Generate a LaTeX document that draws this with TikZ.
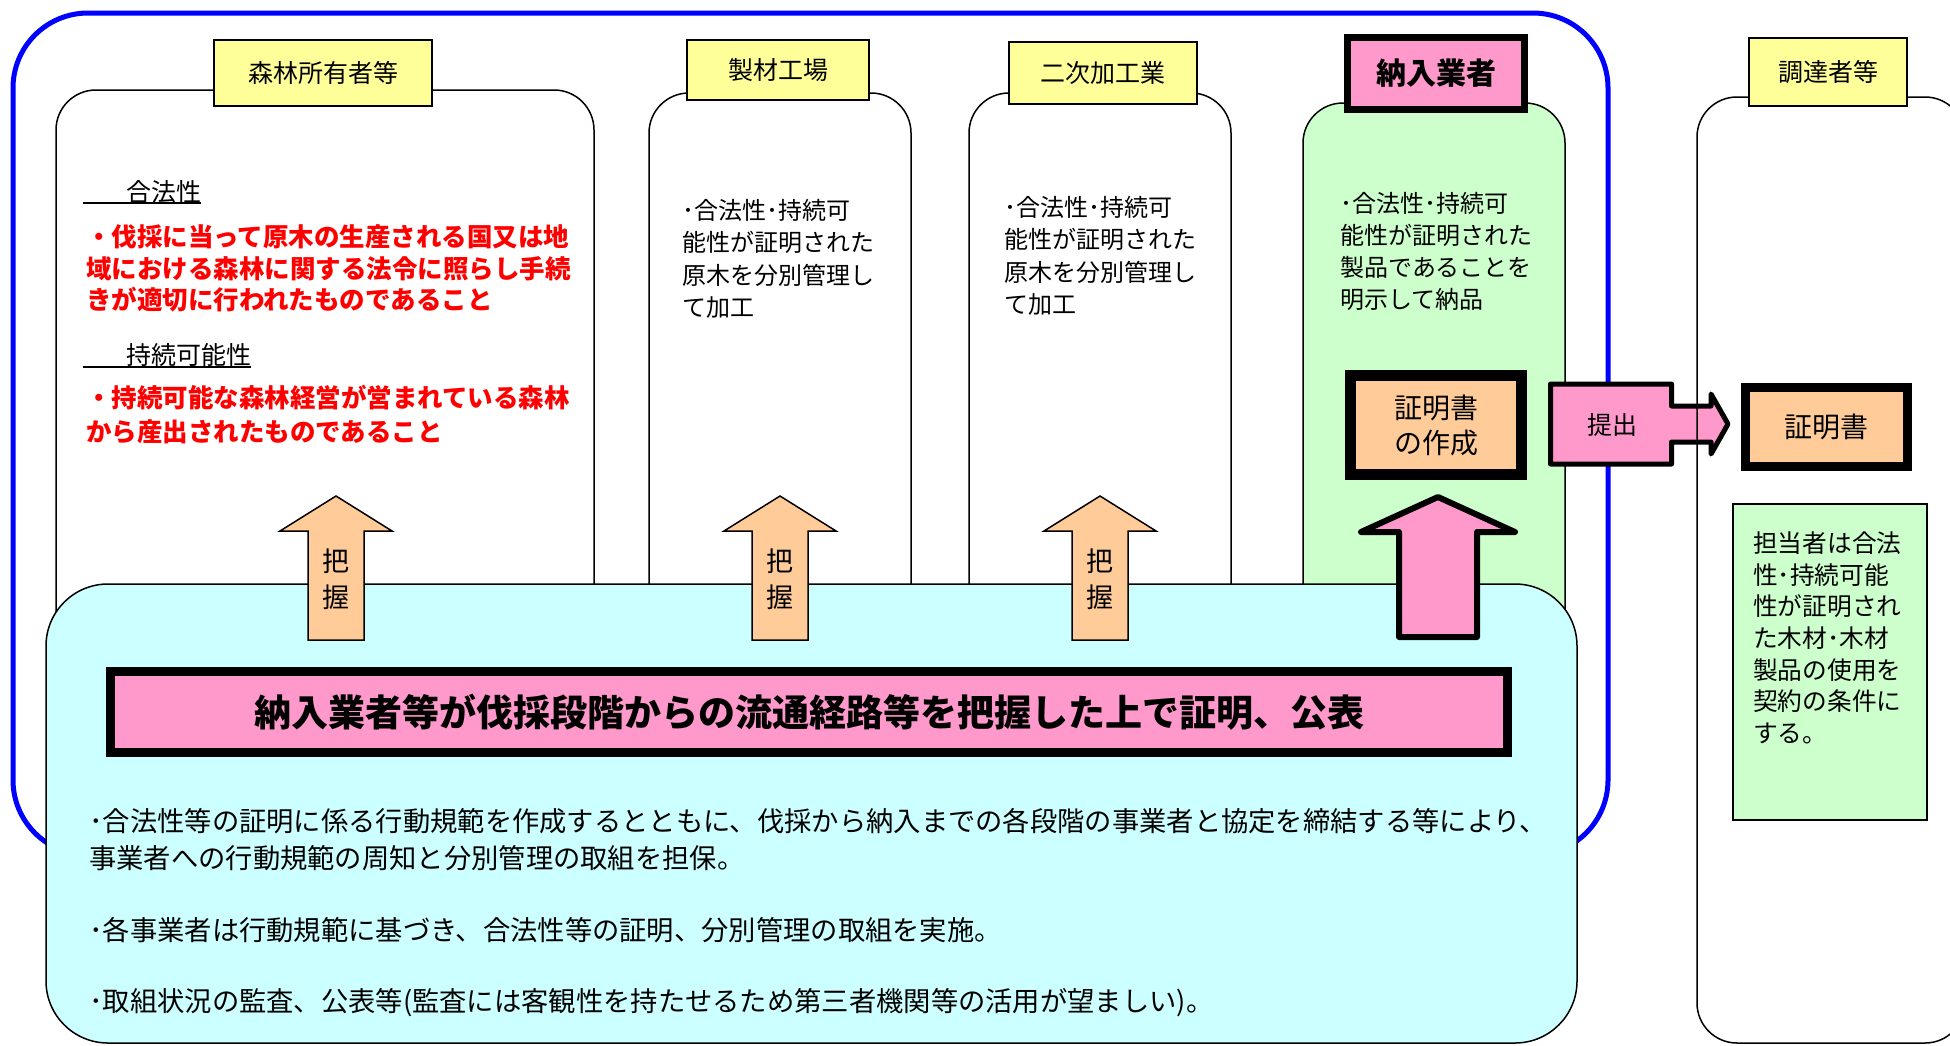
\documentclass[tikz,border=0pt]{standalone}
\usepackage{fontspec}
\setmainfont{Noto Sans CJK JP}
\definecolor{lblyellow}{HTML}{FFFF99}
\definecolor{pinkf}{HTML}{FF99CC}
\definecolor{orangef}{HTML}{FFCC99}
\definecolor{greenf}{HTML}{CCFFCC}
\definecolor{cyanf}{HTML}{CCFFFF}
\definecolor{bluel}{HTML}{0000FF}
\definecolor{redt}{HTML}{FF0000}
\newcommand{\jfs}[2]{\fontsize{#1}{#2}\selectfont}
\newcommand{\firstln}{\rule{0pt}{0.9em}}
\begin{document}
\begin{tikzpicture}[x=1pt,y=-1pt,
  colshape/.style={draw=black, line width=1.5pt, rounded corners=40pt},
  lbl/.style={draw=black, fill=lblyellow, line width=1.5pt, inner sep=0pt, font=\jfs{25}{30}},
  txt/.style={inner sep=0pt, align=left, anchor=north west},
  uparr/.style={draw=black, fill=orangef, line width=1.5pt},
  arrtxt/.style={inner sep=0pt, align=center, font=\jfs{27}{36}},
  thickbox/.style={draw=black, inner sep=0pt}
]
\useasboundingbox (0,0) rectangle (1950,1045);
\clip (0,0) rectangle (1950,1045);
\fill[white] (0,0) rectangle (1950,1045);

% blue outline
\draw[bluel, line width=5pt, rounded corners=75pt] (13,13) rectangle (1608,855);

% columns
\draw[colshape, fill=white] (56,90) rectangle (594,720);
\draw[colshape, fill=white] (649,93) rectangle (911,720);
\draw[colshape, fill=white] (969,93) rectangle (1231,720);
\draw[colshape, fill=greenf] (1303,103) rectangle (1565,720);

% labels
\node[lbl, minimum width=218pt, minimum height=66pt] (l1) at (323,73) {森林所有者等};
\node[lbl, minimum width=182pt, minimum height=60pt] (l2) at (778,70) {製材工場};
\node[lbl, minimum width=188pt, minimum height=62pt] (l3) at (1103,73) {二次加工業};
\node[thickbox, line width=7pt, fill=pinkf, minimum width=177pt, minimum height=72pt,
      font=\jfs{30}{30}\bfseries] (l4) at (1436,73.5) {納入業者};

% cyan box
\draw[draw=black, line width=1.5pt, fill=cyanf, rounded corners=62pt] (46,584) rectangle (1577,1043);

% banner
\node[thickbox, line width=9pt, fill=pinkf, minimum width=1397pt, minimum height=81pt,
      font=\jfs{37}{40}\bfseries] (banner) at (809,712) {納入業者等が伐採段階からの流通経路等を把握した上で証明、公表};

% up arrows
\draw[uparr] (308,640) -- (308,531) -- (280,531) -- (336,496) -- (392,531) -- (364,531) -- (364,640) -- cycle;
\draw[uparr] (752,640) -- (752,531) -- (724,531) -- (780,496) -- (836,531) -- (808,531) -- (808,640) -- cycle;
\draw[uparr] (1072,640) -- (1072,531) -- (1044,531) -- (1100,496) -- (1156,531) -- (1128,531) -- (1128,640) -- cycle;
\node[arrtxt] (g1) at (336,579) {把\\握};
\node[arrtxt] (g2) at (780,579) {把\\握};
\node[arrtxt] (g3) at (1100,579) {把\\握};
\draw[draw=black, fill=pinkf, line width=6pt, line join=round]
  (1399,637) -- (1399,532) -- (1361,532) -- (1438,497) -- (1515,532) -- (1477,532) -- (1477,637) -- cycle;

% certificate creation box
\node[thickbox, line width=11pt, fill=orangef, minimum width=171pt, minimum height=99pt,
      align=center, font=\jfs{28}{35}] (mk) at (1436,425) {証明書\\の作成};

% submit arrow
\draw[draw=black, fill=pinkf, line width=5pt, line join=round]
  (1550.5,384) -- (1671.5,384) -- (1671.5,406) -- (1711,406) -- (1711,394) -- (1728,424)
  -- (1711,454) -- (1711,442) -- (1671.5,442) -- (1671.5,464) -- (1550.5,464) -- cycle;
\node[inner sep=0pt, font=\jfs{25}{30}] (sub) at (1612,425) {提出};

% procurer column
\draw[colshape] (1697,97) rectangle (1965,1043);
\node[lbl, minimum width=158pt, minimum height=68pt] (l5) at (1828,72) {調達者等};
\node[thickbox, line width=9pt, fill=orangef, minimum width=162pt, minimum height=79pt,
      font=\jfs{28}{30}] (cert) at (1826.5,427) {証明書};
\node[draw=black, line width=1.5pt, fill=greenf, minimum width=194pt, minimum height=316pt,
      inner sep=0pt] (note) at (1830,662) {};
\node[txt, font=\jfs{24.7}{31.7}] (notetxt) at (1753,530) {\firstln 担当者は合法\\性･持続可能\\性が証明され\\た木材･木材\\製品の使用を\\契約の条件に\\する。};

% column 1 texts
\node[anchor=base west, inner sep=0pt, font=\jfs{25}{30}] (h1) at (126,201.5) {合法性};
\coordinate (u1) at (83,203);
\draw[line width=2pt] (u1) -- (u1 -| h1.east);
\node[txt, text=redt, font=\jfs{25.5}{31.5}\bfseries] (red1) at (86,223.5) {\firstln ・伐採に当って原木の生産される国又は地\\域における森林に関する法令に照らし手続\\きが適切に行われたものであること};
\node[anchor=base west, inner sep=0pt, font=\jfs{25}{30}] (h2) at (126,364.5) {持続可能性};
\coordinate (u2) at (83,366.5);
\draw[line width=2pt] (u2) -- (u2 -| h2.east);
\node[txt, text=redt, font=\jfs{25.5}{34}\bfseries] (red2) at (86,384.5) {\firstln ・持続可能な森林経営が営まれている森林\\から産出されたものであること};

% column 2-4 texts
\node[txt, font=\jfs{24}{32.5}] (t2) at (682,197.5) {\firstln ･合法性･持続可\\能性が証明された\\原木を分別管理し\\て加工};
\node[txt, font=\jfs{24}{32.5}] (t3) at (1004,194.5) {\firstln ･合法性･持続可\\能性が証明された\\原木を分別管理し\\て加工};
\node[txt, font=\jfs{24}{32}] (t4) at (1340,190.5) {\firstln ･合法性･持続可\\能性が証明された\\製品であることを\\明示して納品};

% bottom texts
\node[txt, font=\jfs{27.3}{37}] (p1) at (89,806.8) {\firstln ･合法性等の証明に係る行動規範を作成するとともに、伐採から納入までの各段階の事業者と協定を締結する等により、\\事業者への行動規範の周知と分別管理の取組を担保。};
\node[txt, font=\jfs{27.3}{37}] (p2) at (89,915.8) {\firstln ･各事業者は行動規範に基づき、合法性等の証明、分別管理の取組を実施。};
\node[txt, font=\jfs{27.3}{37}] (p3) at (89,986.8) {\firstln ･取組状況の監査、公表等(監査には客観性を持たせるため第三者機関等の活用が望ましい)。};
\end{tikzpicture}
\end{document}
